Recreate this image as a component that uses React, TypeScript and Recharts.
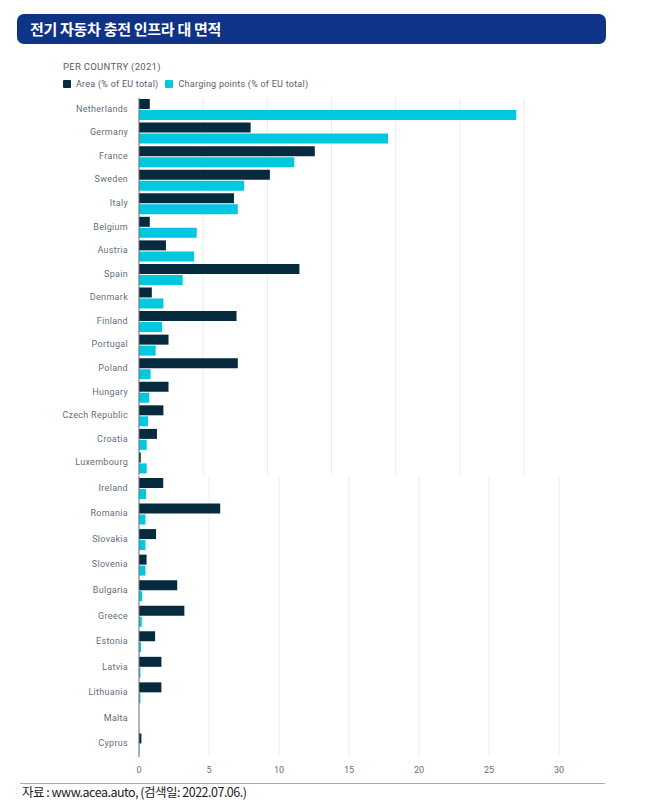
import { BarChart, Bar, XAxis, YAxis, CartesianGrid } from "recharts";

// upper block of the source graphic (its own scale)
const topCountries = [
  "Netherlands", "Germany", "France", "Sweden", "Italy", "Belgium", "Austria", "Spain",
  "Denmark", "Finland", "Portugal", "Poland", "Hungary", "Czech Republic", "Croatia", "Luxembourg",
];
const topArea = [0.84, 8.7, 13.7, 10.2, 7.4, 0.84, 2.1, 12.5, 1.0, 7.6, 2.3, 7.7, 2.3, 1.9, 1.4, 0.14];
const topCharging = [29.4, 19.4, 12.1, 8.2, 7.7, 4.5, 4.3, 3.4, 1.9, 1.8, 1.3, 0.9, 0.8, 0.7, 0.6, 0.6];

// lower block
const bottomCountries = [
  "Ireland", "Romania", "Slovakia", "Slovenia", "Bulgaria", "Greece", "Estonia",
  "Latvia", "Lithuania", "Malta", "Cyprus",
];
const bottomArea = [1.73, 5.8, 1.22, 0.54, 2.73, 3.24, 1.15, 1.6, 1.6, 0, 0.17];
const bottomCharging = [0.5, 0.46, 0.46, 0.46, 0.23, 0.2, 0.15, 0.1, 0.1, 0, 0.02];

const xTicks = [0, 5, 10, 15, 20, 25, 30];

const DARK = "#062a3e";
const CYAN = "#00c8df";
const LABEL = "#5f6f7c";
const FONT = "Roboto, 'Noto Sans', sans-serif";

const topData = topCountries.map((c, i) => ({ country: c, area: topArea[i], charging: topCharging[i] }));
const bottomData = bottomCountries.map((c, i) => ({ country: c, area: bottomArea[i], charging: bottomCharging[i] }));

const CountryTick = ({ x, y, payload }: any) => (
  <text x={x - 3} y={y} dy={2} textAnchor="end" fill={LABEL} fontSize={9} fontFamily={FONT} letterSpacing={0.3}>
    {payload.value}
  </text>
);

const ValueTick = ({ x, y, payload }: any) => (
  <text x={x} y={y} dy={8} textAnchor="middle" fill={LABEL} fontSize={9} fontFamily={FONT}>
    {payload.value}
  </text>
);

export default function App() {
  return (
    <div style={{ position: "absolute", left: 0, top: 0, width: 661, height: 806, background: "#fff", fontFamily: FONT }}>
      <div
        style={{
          position: "absolute",
          left: 17,
          top: 14,
          width: 589,
          height: 30,
          background: "#0f3386",
          borderRadius: 7,
          color: "#fff",
          fontFamily: "'Noto Sans CJK KR', sans-serif",
          fontWeight: 700,
          fontSize: 15,
          letterSpacing: -0.3,
          lineHeight: "30px",
          paddingLeft: 13,
          boxSizing: "border-box",
        }}
      >
        전기 자동차 충전 인프라 대 면적
      </div>

      <div style={{ position: "absolute", left: 63, top: 61, fontSize: 9.5, color: "#56616b", letterSpacing: 0.3 }}>
        PER COUNTRY (2021)
      </div>
      <div style={{ position: "absolute", left: 63, top: 79, fontSize: 9, color: "#56616b", display: "flex", alignItems: "center", letterSpacing: 0.25 }}>
        <span style={{ width: 8, height: 8, background: DARK, borderRadius: 1, marginRight: 5, display: "inline-block" }} />
        <span style={{ marginRight: 7 }}>Area (% of EU total)</span>
        <span style={{ width: 8, height: 8, background: CYAN, borderRadius: 1, marginRight: 5, display: "inline-block" }} />
        <span>Charging points (% of EU total)</span>
      </div>

      <div style={{ position: "absolute", left: 0, top: 0 }}>
        <BarChart
          width={526}
          height={475}
          data={topData}
          layout="vertical"
          margin={{ top: 98, right: 2, bottom: 0, left: 0 }}
          barSize={10}
          barGap={1}
        >
          <CartesianGrid horizontal={false} stroke="#ececec" />
          <XAxis type="number" domain={[0, 30]} ticks={xTicks} hide />
          <YAxis
            type="category"
            dataKey="country"
            width={139}
            tickLine={false}
            axisLine={{ stroke: "#6d7278" }}
            tick={<CountryTick />}
            interval={0}
          />
          <Bar dataKey="area" fill={DARK} isAnimationActive={false} />
          <Bar dataKey="charging" fill={CYAN} isAnimationActive={false} />
        </BarChart>
      </div>

      <div style={{ position: "absolute", left: 0, top: 0 }}>
        <BarChart
          width={580}
          height={787}
          data={bottomData}
          layout="vertical"
          margin={{ top: 476, right: 21, bottom: 0, left: 0 }}
          barSize={10}
          barGap={1}
        >
          <CartesianGrid horizontal={false} stroke="#ececec" />
          <XAxis
            type="number"
            domain={[0, 30]}
            ticks={xTicks}
            height={30}
            axisLine={false}
            tickLine={false}
            tick={<ValueTick />}
          />
          <YAxis
            type="category"
            dataKey="country"
            width={139}
            tickLine={false}
            axisLine={{ stroke: "#6d7278" }}
            tick={<CountryTick />}
            interval={0}
          />
          <Bar dataKey="area" fill={DARK} isAnimationActive={false} />
          <Bar dataKey="charging" fill={CYAN} isAnimationActive={false} />
        </BarChart>
      </div>

      <div style={{ position: "absolute", left: 20, top: 783, width: 585, height: 1, background: "#a9adb1" }} />
      <div
        style={{
          position: "absolute",
          left: 22,
          top: 782,
          fontFamily: "'Noto Sans CJK KR', sans-serif",
          fontSize: 12.5,
          letterSpacing: -0.5,
          color: "#222",
        }}
      >
        자료 : www.acea.auto, (검색일: 2022.07.06.)
      </div>
    </div>
  );
}
